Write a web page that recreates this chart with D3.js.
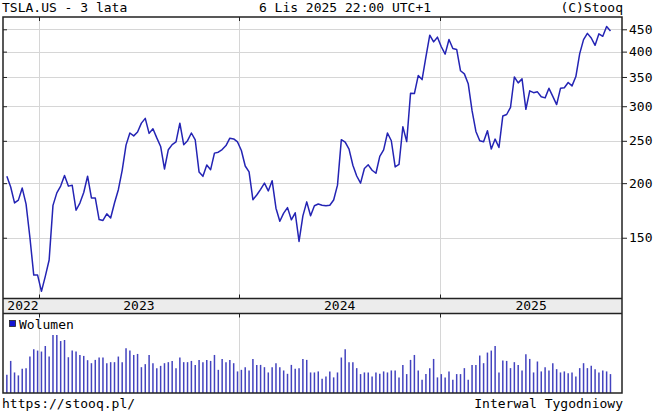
<!DOCTYPE html>
<html>
<head>
<meta charset="utf-8">
<script src="https://cdnjs.cloudflare.com/ajax/libs/d3/7.8.5/d3.min.js"></script>
<style>
  body { margin: 0; background: #fff; }
  svg text { font-family: "DejaVu Sans Mono", monospace; font-size: 13px; fill: #000; }
</style>
</head>
<body>
<script>
'use strict';

// header / footer texts
const titleLeft = 'TSLA.US - 3 lata';
const titleMid = '6 Lis 2025 22:00 UTC+1';
const titleRight = '(C)Stooq';
const footLeft = 'https://stooq.pl/';
const footRight = 'Interwal Tygodniowy';
const volLabel = 'Wolumen';

// weekly bars, first week ends 4 Nov 2022
const firstWeek = new Date(2022, 10, 4);

// weekly closes (USD)
const closes = [
  207.5, 196.0, 180.2, 182.9, 194.9, 179.1, 150.2, 123.2, 123.2,
  113.1, 122.4, 133.4, 177.9, 190.0, 196.9, 208.3, 196.9, 197.8, 173.4, 180.1, 190.4, 207.5,
  185.0, 185.0, 165.1, 164.3, 170.1, 166.4, 180.1, 193.2, 214.0, 244.4, 260.5, 256.6, 261.8,
  274.4, 281.4, 260.0, 266.4, 253.9, 242.7, 215.5, 238.6, 245.0, 248.5, 274.4, 244.9, 250.2,
  260.5, 251.1, 212.0, 207.3, 220.0, 214.7, 234.3, 235.5, 238.8, 243.8, 253.5, 252.5, 248.5,
  237.5, 218.9, 212.2, 183.3, 187.9, 193.6, 200.0, 192.0, 202.6, 175.3, 163.6, 170.8, 175.8,
  164.9, 171.1, 147.1, 168.3, 181.2, 168.5, 177.5, 179.2, 178.1, 177.5, 178.0, 183.0, 197.9,
  251.5, 248.2, 239.2, 219.8, 207.7, 200.0, 216.1, 220.3, 214.1, 210.7, 230.3, 238.3, 260.5,
  250.1, 217.8, 220.7, 269.2, 249.0, 321.2, 320.7, 352.6, 345.2, 389.2, 436.2, 421.1, 431.7,
  410.4, 394.7, 426.5, 406.6, 404.6, 361.6, 355.8, 337.8, 293.0, 262.7, 250.0, 248.7, 263.6,
  239.4, 252.3, 241.4, 285.0, 287.2, 298.3, 350.0, 339.3, 346.5, 295.1, 325.3, 322.2, 323.6,
  315.4, 313.5, 329.7, 316.1, 302.6, 329.7, 330.6, 340.0, 333.9, 350.8, 395.9, 426.1, 440.4,
  429.8, 413.5, 439.3, 433.7, 456.6, 445.9
];

// weekly volume (mln shares)
const volumes = [
  320, 565, 362, 310, 425, 438, 642, 770, 747, 730, 828, 642, 1020, 1020, 915, 933, 630,
  747, 730, 670, 653, 578, 525, 583, 625, 625,
  525, 543, 543, 642, 543, 788, 747, 670, 688, 455, 508, 670, 525, 438, 478, 525, 543,
  565, 438, 625, 543, 543, 565, 495, 583, 543, 583,
  565, 670, 408, 600, 543, 583, 525, 380, 408, 455, 397, 600, 495, 495, 455, 362, 455,
  525, 455, 397, 338, 495, 425, 438, 600, 583, 362,
  362, 380, 250, 292, 380, 275, 362, 625, 770, 543, 543, 438, 333, 362, 362, 292, 362,
  338, 380, 362, 397, 397, 275, 495, 333, 583, 670,
  397, 233, 333, 438, 600, 275, 333, 275, 380, 233, 333, 333, 438, 233, 495, 495, 660,
  525, 712, 747, 828, 362, 572, 565, 438, 543, 495,
  397, 683, 600, 362, 555, 380, 455, 397, 525, 420, 362, 380, 350, 362, 292, 438, 525,
  438, 478, 420, 362, 397, 380, 333
];

const yTicks = [150, 200, 250, 300, 350, 400, 450];
const yearLabels = ['2022', '2023', '2024', '2025'];

const W = 653, H = 414;
const L = 3, R = 622, T = 17, B = 298.5, BAND_B = 313.5, VB = 393;

const dates = closes.map((c, i) => d3.timeWeek.offset(firstWeek, i));

const x = d3.scaleTime()
  .domain([new Date(2022, 9, 28), new Date(2025, 10, 28)])
  .range([L, R]);
const y = d3.scaleLog().domain([108.9, 480.1]).range([B, T]);
const vy = d3.scaleLinear().domain([0, 1400]).range([VB, BAND_B]);

const svg = d3.select('body').append('svg')
  .attr('width', W)
  .attr('height', H);

const yearStarts = x.ticks(d3.timeYear).filter(d => d > x.domain()[0]);

// grid
svg.append('g')
  .selectAll('line.h')
  .data(yTicks)
  .enter().append('line')
    .attr('x1', L).attr('x2', R)
    .attr('y1', d => Math.round(y(d)) + 0.5)
    .attr('y2', d => Math.round(y(d)) + 0.5)
    .attr('stroke', '#d6d6d6');

[[T, B], [BAND_B, VB]].forEach(([y1, y2]) => {
  svg.append('g')
    .selectAll('line')
    .data(yearStarts)
    .enter().append('line')
      .attr('x1', d => Math.round(x(d)) + 0.5)
      .attr('x2', d => Math.round(x(d)) + 0.5)
      .attr('y1', y1).attr('y2', y2)
      .attr('stroke', '#d6d6d6');
});

// price line
const line = d3.line()
  .x((d, i) => x(dates[i]))
  .y(d => y(d));

svg.append('path')
  .datum(closes)
  .attr('d', line)
  .attr('fill', 'none')
  .attr('stroke', '#2424b4')
  .attr('stroke-width', 1.5)
  .attr('stroke-linejoin', 'round');

// volume bars
svg.append('g')
  .selectAll('line')
  .data(volumes)
  .enter().append('line')
    .attr('x1', (d, i) => x(dates[i]))
    .attr('x2', (d, i) => x(dates[i]))
    .attr('y1', VB)
    .attr('y2', d => vy(d))
    .attr('stroke', '#4343bf')
    .attr('stroke-width', 1.5);

// year band
svg.append('rect')
  .attr('x', L).attr('y', B)
  .attr('width', R - L).attr('height', BAND_B - B)
  .attr('fill', '#ececec');

// frame
const frame = svg.append('g')
  .attr('fill', 'none')
  .attr('stroke', '#222')
  .attr('stroke-width', 1.5);
frame.append('rect')
  .attr('x', L).attr('y', T)
  .attr('width', R - L).attr('height', VB - T);
frame.append('line').attr('x1', L).attr('x2', R).attr('y1', B).attr('y2', B);
frame.append('line').attr('x1', L).attr('x2', R).attr('y1', BAND_B).attr('y2', BAND_B);

// year ticks on the frame edges
const tickSpots = [[T, 4], [B, -4], [BAND_B, 4]];
tickSpots.forEach(([y0, len]) => {
  svg.append('g')
    .selectAll('line')
    .data(yearStarts)
    .enter().append('line')
      .attr('x1', d => Math.round(x(d)) + 0.5)
      .attr('x2', d => Math.round(x(d)) + 0.5)
      .attr('y1', y0).attr('y2', y0 + len)
      .attr('stroke', '#222');
});

// year labels, centred in each year's span
const bounds = [L].concat(yearStarts.map(x), [R]);
svg.append('g')
  .selectAll('text')
  .data(yearLabels)
  .enter().append('text')
    .attr('x', (d, i) => Math.max((bounds[i] + bounds[i + 1]) / 2, L + 20))
    .attr('y', 310)
    .attr('text-anchor', 'middle')
    .text(d => d);

// price axis (right) and inner ticks on the left
const axisR = svg.append('g')
  .attr('transform', 'translate(' + R + ',0)')
  .call(d3.axisRight(y).tickValues(yTicks).tickSize(5).tickPadding(2).tickFormat(d3.format('d')));
axisR.select('.domain').remove();
axisR.selectAll('line').attr('stroke', '#222');
axisR.selectAll('text').attr('font-family', null).attr('font-size', null);

const axisL = svg.append('g')
  .attr('transform', 'translate(' + L + ',0)')
  .call(d3.axisLeft(y).tickValues(yTicks).tickSize(-4).tickFormat(''));
axisL.select('.domain').remove();
axisL.selectAll('line').attr('stroke', '#222');

// volume legend
svg.append('rect')
  .attr('x', 9.5).attr('y', 320.5)
  .attr('width', 6).attr('height', 6)
  .attr('fill', '#1414d2')
  .attr('stroke', '#222')
  .attr('stroke-width', 0.8);
svg.append('text').attr('x', 19).attr('y', 329).text(volLabel);

// header and footer
svg.append('text').attr('x', 2).attr('y', 12).text(titleLeft);
svg.append('text').attr('x', 345).attr('y', 12).attr('text-anchor', 'middle').text(titleMid);
svg.append('text').attr('x', 623).attr('y', 12).attr('text-anchor', 'end').text(titleRight);
svg.append('text').attr('x', 2).attr('y', 408).text(footLeft);
svg.append('text').attr('x', 623).attr('y', 408).attr('text-anchor', 'end').text(footRight);
</script>
</body>
</html>
